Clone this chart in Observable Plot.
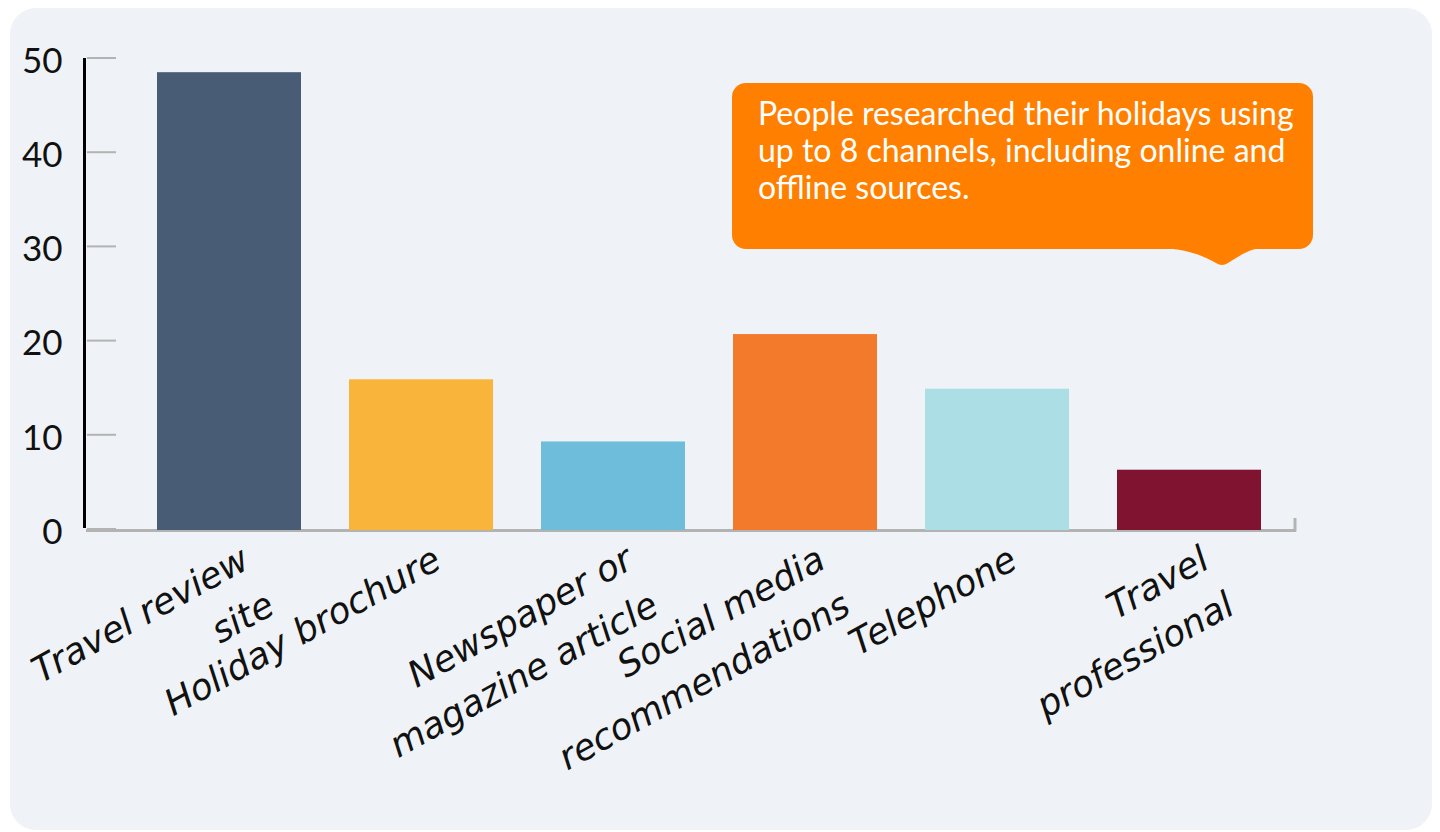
<!DOCTYPE html>
<html>
<head>
<meta charset="utf-8">
<script src="https://cdn.jsdelivr.net/npm/d3@7"></script>
<script src="https://cdn.jsdelivr.net/npm/@observablehq/plot@0.6"></script>
<style>
  html, body { margin: 0; padding: 0; background: #ffffff; width: 1440px; height: 832px; overflow: hidden; }
  #panel { position: absolute; left: 10px; top: 8px; width: 1422px; height: 822px; background: #eff3f7; border-radius: 26px; }
  #chart { position: absolute; left: 0; top: 0; }
  #note { position: absolute; left: 732px; top: 83px; width: 581px; height: 166px; box-sizing: border-box;
          background: #ff8000; border-radius: 14px; color: #ffffff; font-family: Lato, sans-serif;
          font-size: 32px; line-height: 37px; padding: 11px 0 0 26px; white-space: nowrap; }
  #tail { position: absolute; left: 0; top: 0; overflow: visible; }
</style>
</head>
<body>
<div id="panel"></div>
<div id="chart"></div>
<div id="note"></div>
<svg id="tail" width="1440" height="832"><path d="M1160,248 C1190,249 1205,257 1216,263 Q1222,267 1228,263 C1238,257 1248,249 1262,248 Z" fill="#ff8000"/></svg>
<script>
const categories = ["Travel review\nsite", "Holiday brochure", "Newspaper or\nmagazine article", "Social media\nrecommendations", "Telephone", "Travel\nprofessional"];
const values = [48.6, 16.0, 9.4, 20.8, 15.0, 6.4];
const colors = ["#485c76", "#f9b43c", "#6ebddb", "#f37a2b", "#acdee5", "#7f1330"];
const yTicks = [0, 10, 20, 30, 40, 50];
const noteLines = ["People researched their holidays using", "up to 8 channels, including online and", "offline sources."];

const data = categories.map((c, i) => ({category: c, value: values[i]}));

const axisLines = (index, {y}, values, {width, height, marginLeft, marginRight}) => {
  const g = d3.create("svg:g");
  g.selectAll("line.tick").data(yTicks).join("line")
    .attr("x1", marginLeft + 1).attr("x2", marginLeft + 30)
    .attr("y1", d => y(d) - 1).attr("y2", d => y(d) - 1)
    .attr("stroke", "#b3b3b3").attr("stroke-width", 2);
  g.append("line")
    .attr("x1", marginLeft - 1.5).attr("x2", marginLeft - 1.5)
    .attr("y1", y(yTicks[yTicks.length - 1]) - 1).attr("y2", y(0) - 2)
    .attr("stroke", "#000").attr("stroke-width", 3);
  g.append("line")
    .attr("x1", width - marginRight - 1).attr("x2", width - marginRight - 1)
    .attr("y1", y(0) - 12).attr("y2", y(0) + 1.5)
    .attr("stroke", "#b3b3b3").attr("stroke-width", 3);
  return g.node();
};

const chart = Plot.plot({
  width: 1440,
  height: 832,
  marginLeft: 86,
  marginRight: 144,
  marginTop: 59,
  marginBottom: 302,
  style: {background: "transparent", overflow: "visible"},
  x: {domain: categories, paddingInner: 0.25, paddingOuter: 0.26, align: 0.67, axis: null},
  y: {domain: [0, 50], axis: null},
  color: {domain: categories, range: colors},
  marks: [
    Plot.ruleY([0], {stroke: "#b3b3b3", strokeWidth: 3}),
    Plot.barY(data, {x: "category", y: "value", fill: "category"}),
    axisLines,
    Plot.axisY({ticks: yTicks, tickSize: 0, tickPadding: 24, fontSize: 35, fontFamily: "Lato", fill: "#111", label: null, dy: 2}),
    Plot.text(data, {x: "category", text: "category", frameAnchor: "bottom", rotate: -29, textAnchor: "end", lineAnchor: "top",
                     lineHeight: 1.45, fontSize: 36, fontStyle: "italic", fontFamily: "DejaVu Sans", fill: "#111", dx: 4, dy: 4})
  ]
});
document.getElementById("chart").appendChild(chart);
document.getElementById("note").innerHTML = noteLines.join("<br>");
</script>
</body>
</html>
